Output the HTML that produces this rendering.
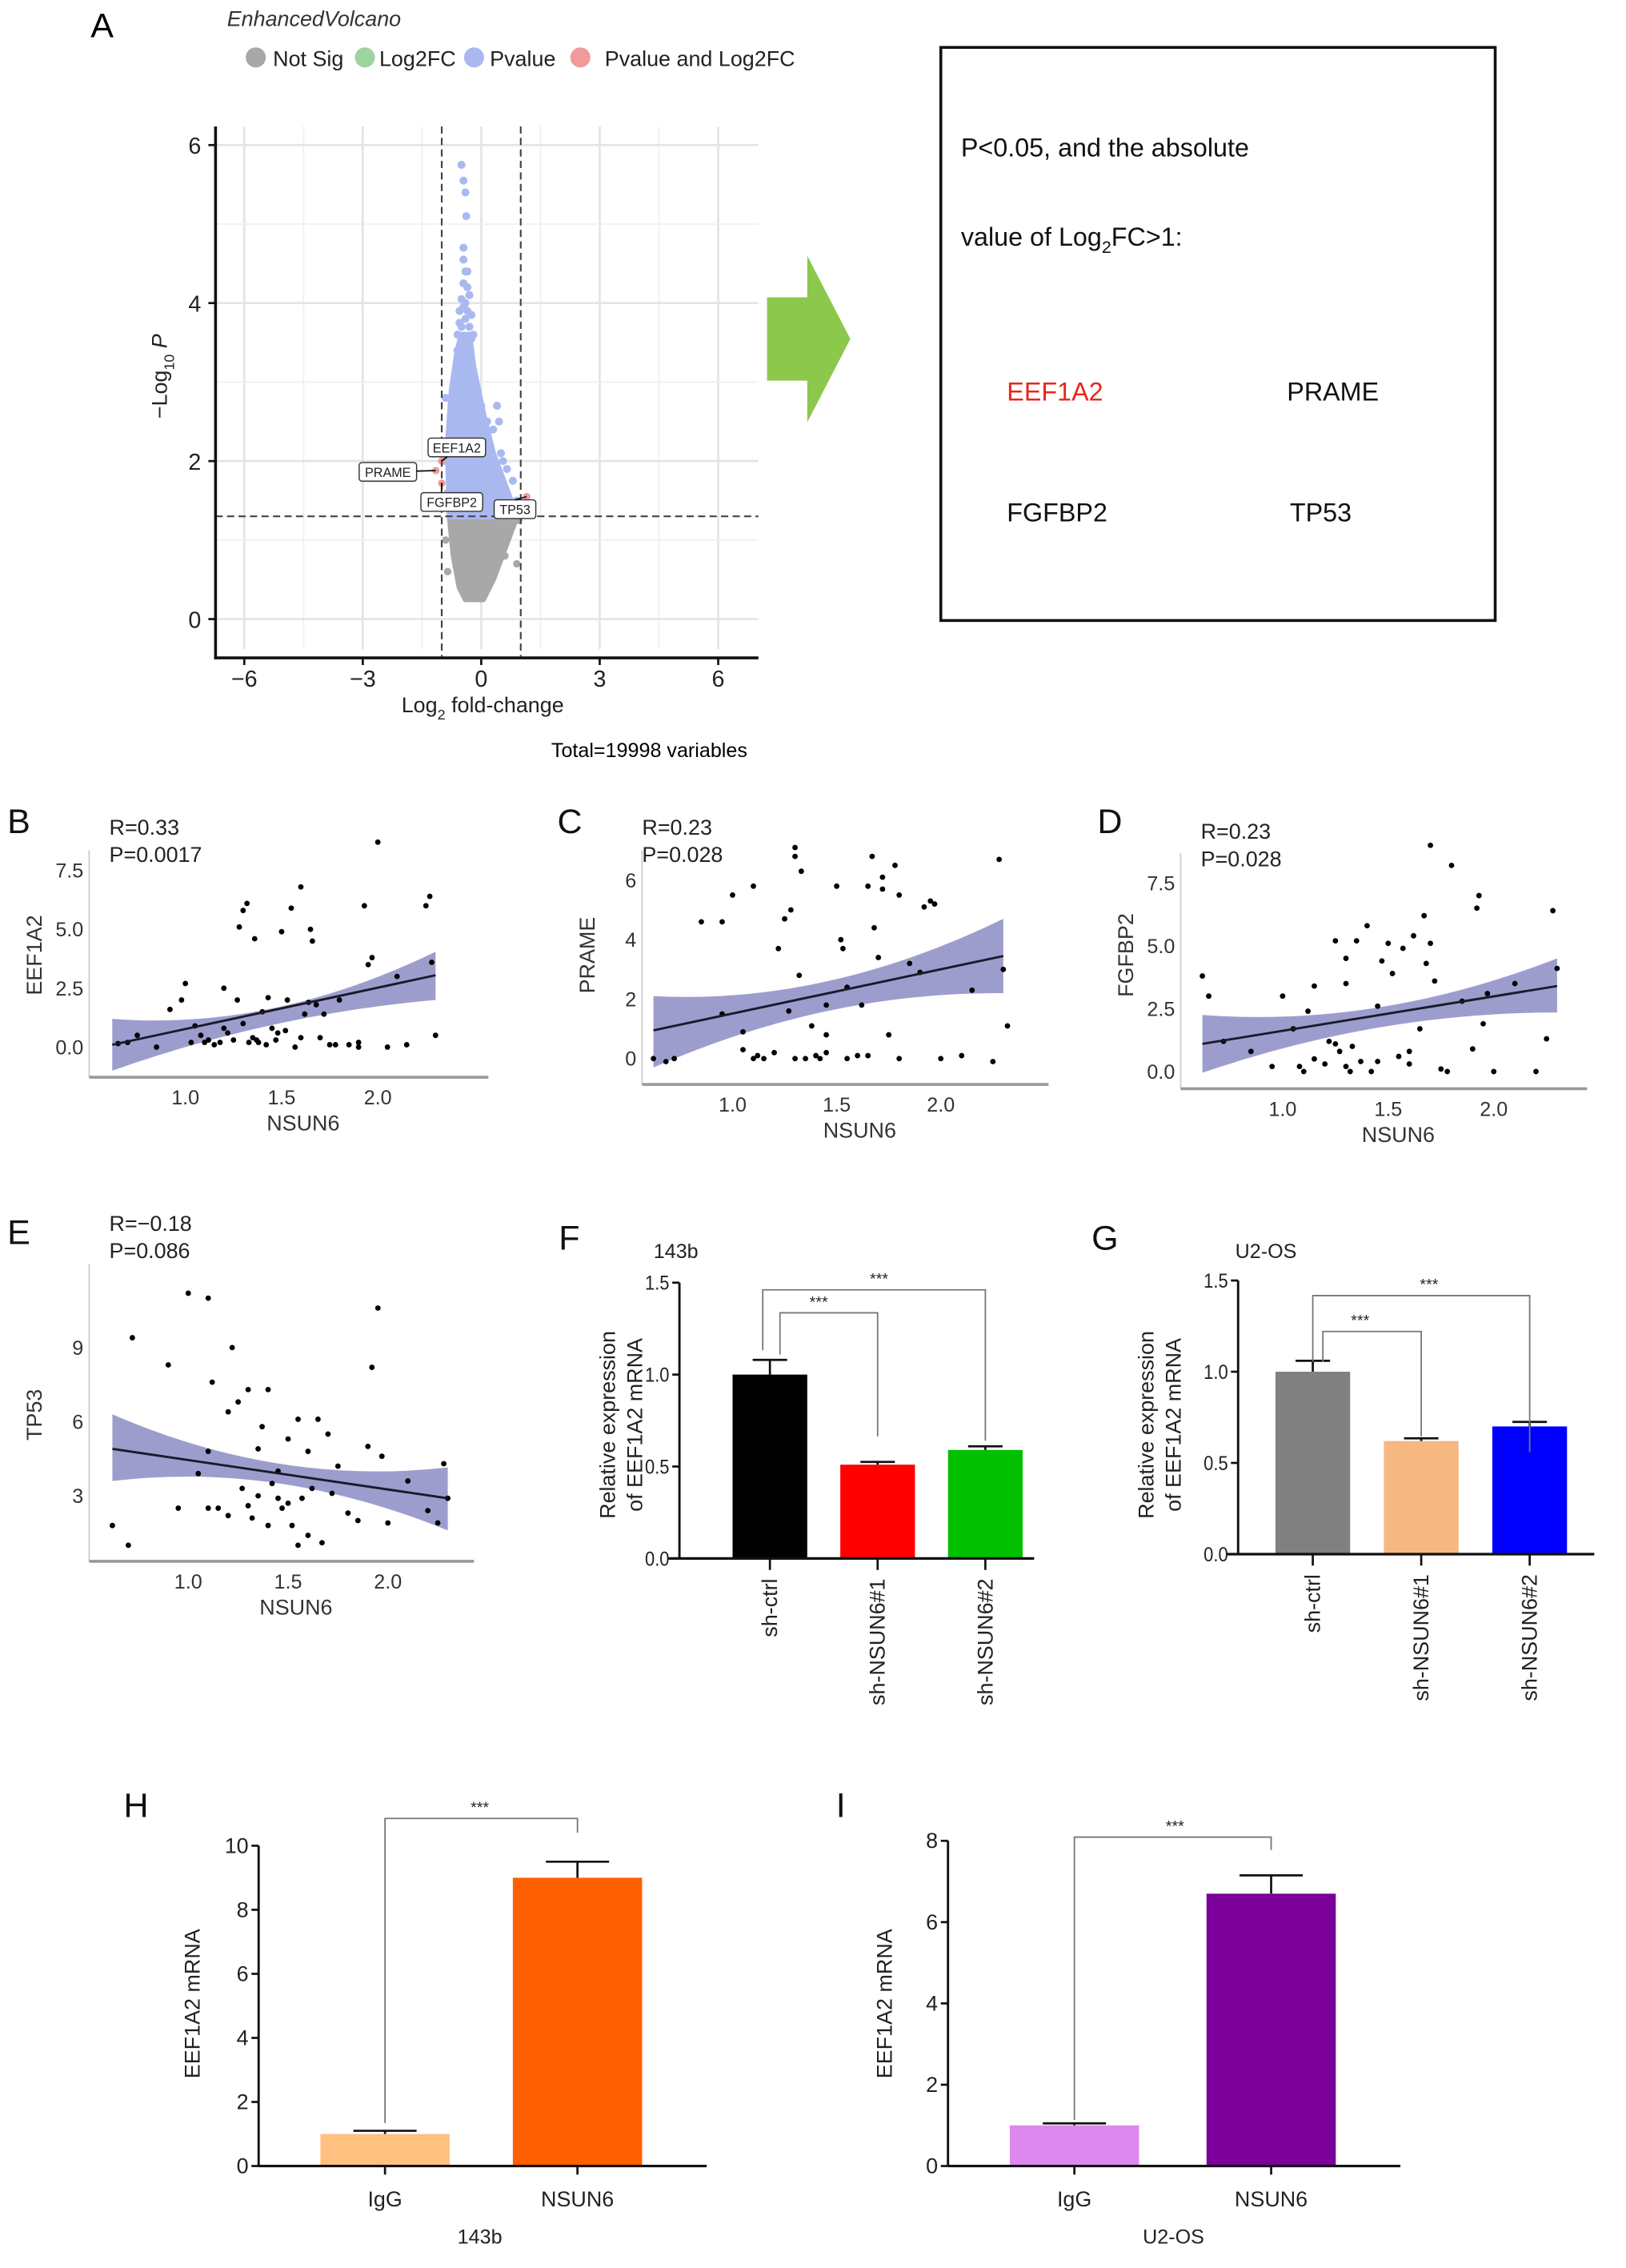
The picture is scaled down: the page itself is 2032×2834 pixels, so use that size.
<!DOCTYPE html>
<html><head><meta charset="utf-8">
<style>
html,body{margin:0;padding:0;background:#fff;}
svg{display:block;font-family:"Liberation Sans",Arial,sans-serif;}
</style></head>
<body>
<svg id="fig" width="2032" height="2834" viewBox="0 0 1132 1579" xmlns="http://www.w3.org/2000/svg">
<rect width="1132" height="1579" fill="#fff"/>
<text x="63" y="26" font-size="24">A</text>
<text x="158" y="18" font-size="15" font-style="italic" fill="#333">EnhancedVolcano</text>
<g font-size="15" fill="#222">
<circle cx="178" cy="40" r="7" fill="#a8a8a8"/><text x="190" y="46">Not Sig</text>
<circle cx="254" cy="40" r="7" fill="#9fd39f"/><text x="264" y="46">Log2FC</text>
<circle cx="330" cy="40" r="7" fill="#a9b9f0"/><text x="341" y="46">Pvalue</text>
<circle cx="404" cy="40" r="7" fill="#f29a9a"/><text x="421" y="46">Pvalue and Log2FC</text>
</g>
<polygon points="534,207 562,207 562,178 592,236 562,294 562,265 534,265" fill="#8cc84b"/>
<rect x="655" y="33" width="386" height="399" fill="none" stroke="#111" stroke-width="2"/>
<g font-size="18" fill="#111">
<text x="669" y="109">P&lt;0.05, and the absolute</text>
<text x="669" y="171">value of Log<tspan font-size="12" dy="5">2</tspan><tspan dy="-5">FC&gt;1:</tspan></text>
<text x="701" y="279" fill="#e8261e">EEF1A2</text>
<text x="896" y="279">PRAME</text>
<text x="701" y="363">FGFBP2</text>
<text x="898" y="363">TP53</text>
</g>
<text x="452" y="527" font-size="14" text-anchor="middle">Total=19998 variables</text>
<g id="volcano"></g>
<g id="scatters"></g>
<g id="bars"></g>
</svg>
<script>
const NS="http://www.w3.org/2000/svg";
function mk(parent,tag,attrs,text){const e=document.createElementNS(NS,tag);for(const k in attrs)e.setAttribute(k,attrs[k]);if(text!==undefined)e.textContent=text;parent.appendChild(e);return e;}

// ---------- Volcano data ----------
const volcanoXTicks=[-6,-3,0,3,6];
const volcanoYTicks=[0,2,4,6];
const blueX=[-0.5,-0.45,-0.4,-0.38,-0.45,-0.45,-0.4,-0.35,-0.5,-0.4,-0.3,-0.25,-0.55,-0.2,0.4,0.45,0.3,0.5,0.55,0.65,0.8,0.9,-0.9,-0.95,-0.85,-0.1,0.1,0.2,0.35,-0.6,-0.3,0.0,0.15,-0.7,-0.65,-0.45,-0.35,-0.55,-0.3,-0.5,-0.4,-0.25,-0.6,-0.35,-0.45];
const blueY=[5.75,5.55,5.4,5.1,4.7,4.55,4.4,4.4,4.05,4.0,4.1,3.85,3.9,3.6,2.7,2.5,2.4,2.1,2.0,1.9,1.75,1.5,2.8,2.0,1.6,2.9,2.3,2.2,1.9,3.4,3.3,2.7,2.5,2.4,1.8,3.95,3.9,3.75,3.7,3.7,3.8,3.55,3.6,4.2,4.25];
const redX=[-1.0,-1.15,-1.0,1.15];
const redY=[2.0,1.88,1.72,1.55];
const greyX=[0.95,0.9,-0.9,-0.85,0.6,0.7,-0.2,0.1,-0.5];
const greyY=[1.25,0.7,1.0,0.6,0.8,1.1,0.3,0.35,0.6];
const blueBlobX=[-0.8,-0.85,-0.75,-0.6,-0.5,-0.3,-0.2,0.05,0.3,0.6,0.9];
const blueBlobY=[1.3,2.2,2.9,3.4,3.6,3.6,3.2,2.6,2.1,1.7,1.3];
const greyBlobX=[-0.8,-0.7,-0.55,-0.4,0.05,0.3,0.6,0.9];
const greyBlobY=[1.3,0.8,0.4,0.25,0.25,0.5,0.9,1.3];
const geneLabels=["EEF1A2","PRAME","FGFBP2","TP53"];

(function(){
 const g=document.getElementById('volcano');
 const X=v=>335+v*27.5, Y=v=>431-v*55;
 for(let v=-6;v<=6;v+=1.5){const l=mk(g,'line',{x1:X(v),x2:X(v),y1:88,y2:452,stroke:v%3===0?'#e4e4e4':'#f0f0f0','stroke-width':v%3===0?1.5:1});}
 for(let v=0;v<=6;v+=1){const l=mk(g,'line',{x1:150,x2:528,y1:Y(v),y2:Y(v),stroke:v%2===0?'#e4e4e4':'#f0f0f0','stroke-width':v%2===0?1.5:1});}
 let p=mk(g,'polygon',{points:greyBlobX.map((x,i)=>X(x)+','+Y(greyBlobY[i])).join(' '),fill:'#a8a8a8','stroke':'#a8a8a8','stroke-width':4,'stroke-linejoin':'round'});
 
 greyX.forEach((x,i)=>{const c=mk(g,'circle',{cx:X(x),cy:Y(greyY[i]),r:2.6,fill:'#a8a8a8'});});
 p=mk(g,'polygon',{points:blueBlobX.map((x,i)=>X(x)+','+Y(blueBlobY[i])).join(' '),fill:'#a9b9f0','stroke':'#a9b9f0','stroke-width':4,'stroke-linejoin':'round'});
 
 blueX.forEach((x,i)=>{const c=mk(g,'circle',{cx:X(x),cy:Y(blueY[i]),r:2.8,fill:'#a9b9f0'});});
 redX.forEach((x,i)=>{const c=mk(g,'circle',{cx:X(x),cy:Y(redY[i]),r:2.6,fill:'#f29a9a'});});
 [-1,1].forEach(v=>{const l=mk(g,'line',{x1:X(v),x2:X(v),y1:88,y2:457,stroke:'#444','stroke-dasharray':'5,3','stroke-width':1.2});});
 let l=mk(g,'line',{x1:150,x2:528,y1:Y(1.3),y2:Y(1.3),stroke:'#444','stroke-dasharray':'5,3','stroke-width':1.2});
 const boxes=[[298,305,40],[250,322,40],[293,343,43],[344,348,29]];
 geneLabels.forEach((t,i)=>{const b=boxes[i];const gg=mk(g,'g',{});
  mk(gg,'rect',{x:b[0],y:b[1],width:b[2],height:13,rx:2,fill:'#fff',stroke:'#333','stroke-width':0.8});
  mk(gg,'text',{x:b[0]+b[2]/2,y:b[1]+10,'font-size':9,'text-anchor':'middle',fill:'#222'},t);
  const tx=X(redX[i]),ty=Y(redY[i]);
  const ax=i===1?b[0]+b[2]:(i===3?b[0]+b[2]/2:b[0]+b[2]/3), ay=i===0?b[1]+13:(i===1?b[1]+6:b[1]);
  mk(gg,'line',{x1:ax,y1:ay,x2:tx,y2:ty,stroke:'#111','stroke-width':1});});
 l=mk(g,'line',{x1:150,x2:150,y1:88,y2:459,stroke:'#111','stroke-width':2});
 l=mk(g,'line',{x1:149,x2:528,y1:458,y2:458,stroke:'#111','stroke-width':2});
 volcanoXTicks.forEach(v=>{mk(g,'line',{x1:X(v),x2:X(v),y1:458,y2:463,stroke:'#111','stroke-width':1.5});const t=mk(g,'text',{x:X(v),y:478,'font-size':16,'text-anchor':'middle',fill:'#222'},v<0?'\u2212'+(-v):String(v));});
 volcanoYTicks.forEach(v=>{mk(g,'line',{x1:145,x2:150,y1:Y(v),y2:Y(v),stroke:'#111','stroke-width':1.5});const t=mk(g,'text',{x:140,y:Y(v)+6,'font-size':16,'text-anchor':'end',fill:'#222'},String(v));});
 let t=mk(g,'text',{x:336,y:496,'font-size':15,'text-anchor':'middle',fill:'#222'});t.innerHTML='Log<tspan font-size="10" dy="5">2</tspan><tspan dy="-5"> fold-change</tspan>';
 
 t=mk(g,'text',{transform:'translate(116,262) rotate(-90)','font-size':15,'text-anchor':'middle',fill:'#222'});t.innerHTML='\u2212Log<tspan font-size="10" dy="5">10</tspan><tspan dy="-5" font-style="italic"> P</tspan>';
 
})();

// ---------- Scatter data ----------
const bX=[0.65,0.7,0.75,0.85,0.92,0.98,1.0,1.03,1.05,1.08,1.1,1.12,1.15,1.18,1.2,1.22,1.25,1.27,1.28,1.3,1.32,1.33,1.35,1.36,1.37,1.38,1.4,1.42,1.43,1.45,1.47,1.48,1.5,1.52,1.53,1.55,1.57,1.6,1.62,1.64,1.65,1.66,1.68,1.7,1.72,1.75,1.78,1.8,1.85,1.9,1.93,1.95,1.97,2.0,2.05,2.1,2.15,2.25,2.27,2.28,2.3,1.9,1.6,1.3,1.2];
const bY=[0.15,0.2,0.5,0.0,1.6,2.0,2.7,0.2,0.9,0.5,0.2,0.3,0.1,0.2,2.5,0.6,0.3,2.0,5.1,5.8,6.1,0.2,0.4,4.6,0.3,0.2,1.5,0.1,2.1,0.8,0.3,0.6,4.9,0.7,2.0,5.9,0.0,6.8,1.4,1.9,5.0,4.5,1.8,0.4,1.4,0.1,0.1,2.0,0.1,0.0,6.0,3.5,3.8,8.7,0.0,3.0,0.1,6.0,6.4,3.6,0.5,0.2,0.4,1.0,0.8];
const cX=[0.62,0.68,0.72,0.85,0.95,0.95,1.0,1.05,1.05,1.1,1.12,1.15,1.2,1.22,1.25,1.27,1.28,1.3,1.3,1.32,1.33,1.35,1.38,1.4,1.42,1.45,1.45,1.5,1.52,1.53,1.55,1.6,1.62,1.65,1.67,1.68,1.7,1.72,1.72,1.75,1.78,1.8,1.85,1.9,1.92,1.95,1.97,2.0,2.1,2.15,2.25,2.28,2.3,2.32,1.3,1.55,1.1,1.65,1.8,1.45];
const cY=[0.0,-0.1,0.0,4.6,4.6,1.5,5.5,0.9,0.3,5.8,0.1,0.0,0.2,3.7,4.7,1.6,5.0,7.1,6.8,2.8,6.3,0.0,1.1,0.1,0.0,1.8,0.8,5.8,4.0,3.7,2.4,0.1,1.8,5.8,6.8,4.4,3.4,6.1,5.7,0.8,6.5,5.5,3.2,2.9,5.1,5.3,5.2,0.0,0.1,2.3,-0.1,6.7,3.0,1.1,0.0,0.0,0.0,0.1,0.0,0.2];
const dX=[0.62,0.65,0.72,0.85,0.95,1.0,1.05,1.08,1.1,1.12,1.15,1.2,1.22,1.25,1.27,1.3,1.3,1.32,1.33,1.35,1.37,1.4,1.42,1.45,1.47,1.5,1.52,1.55,1.57,1.6,1.62,1.65,1.67,1.68,1.7,1.72,1.75,1.78,1.8,1.85,1.9,1.92,1.93,1.95,1.97,2.0,2.1,2.2,2.25,2.28,2.3,1.7,1.25,1.3,1.15,1.45,1.6];
const dY=[3.8,3.0,1.2,0.8,0.2,3.0,1.7,0.2,0.0,2.4,3.4,0.3,1.2,5.2,0.8,4.5,3.5,0.0,1.0,5.2,0.4,5.8,0.0,2.6,4.4,5.1,3.9,0.6,4.9,0.3,5.4,1.7,6.2,4.3,5.1,3.6,0.1,0.0,8.2,2.8,0.9,6.5,7.0,1.9,3.1,0.0,3.5,0.0,1.3,6.4,4.1,9.0,1.1,0.2,0.5,0.4,0.8];
const eX=[0.62,0.7,0.72,0.9,0.95,1.0,1.05,1.1,1.1,1.12,1.15,1.2,1.22,1.25,1.27,1.3,1.32,1.35,1.37,1.4,1.42,1.45,1.47,1.5,1.52,1.55,1.57,1.6,1.62,1.65,1.67,1.7,1.72,1.75,1.8,1.85,1.9,1.92,1.95,1.97,2.0,2.1,2.2,2.25,2.28,2.3,1.3,1.4,1.5,1.2,1.6,1.1,1.35,1.45,1.55];
const eY=[1.8,1.0,9.4,8.3,2.5,11.2,3.9,11.0,4.8,7.6,2.5,6.4,9.0,6.8,3.3,7.3,2.1,4.9,5.8,7.3,3.5,4.0,2.5,5.3,1.8,6.1,2.9,1.4,3.3,6.1,1.1,5.5,3.1,4.2,2.3,2.0,5.0,8.2,10.6,4.6,1.9,3.6,2.4,1.9,4.3,2.9,2.6,1.8,2.7,2.2,4.8,2.5,3.0,2.9,1.0];
const bFit=[0.1,3.05]; const bBand=[-1.0,1.2,0.95,1.65,2.0,4.05];
const cFit=[0.95,3.45]; const cBand=[-0.3,2.1,1.6,2.6,2.2,4.7];
const dFit=[1.1,3.4]; const dBand=[-0.05,2.25,1.75,2.55,2.35,4.5];
const eFit=[4.9,2.9]; const eBand=[3.6,6.3,3.5,4.3,1.6,4.15];

function scatterPanel(cfg,xs,ys,fit,band){
 const root=document.getElementById('scatters');
 const g=mk(root,'g',{});
 const X=v=>cfg.x1+(v-1)*cfg.sx, Y=v=>cfg.y0-v*cfg.sy;
 const xa=0.62,xm=1.45,xb=2.3;
 const path='M'+X(xa)+','+Y(band[0])+' Q'+X(xm)+','+(2*Y(band[2])-(Y(band[0])+Y(band[4]))/2)+' '+X(xb)+','+Y(band[4])+' L'+X(xb)+','+Y(band[5])+' Q'+X(xm)+','+(2*Y(band[3])-(Y(band[1])+Y(band[5]))/2)+' '+X(xa)+','+Y(band[1])+' Z';
 let e=mk(g,'path',{d:path,fill:'#8c8cc4','fill-opacity':0.85});
 xs.forEach((x,i)=>{const c=mk(g,'circle',{cx:X(x),cy:Y(ys[i]),r:1.9,fill:'#000'});});
 e=mk(g,'line',{x1:X(xa),y1:Y(fit[0]),x2:X(xb),y2:Y(fit[1]),stroke:'#1a1a2a','stroke-width':1.6});
 e=mk(g,'line',{x1:cfg.ax,x2:cfg.ax,y1:cfg.top,y2:cfg.bot,stroke:'#ccc','stroke-width':1});
 e=mk(g,'line',{x1:cfg.ax,x2:cfg.right,y1:cfg.bot,y2:cfg.bot,stroke:'#999','stroke-width':2});
 cfg.xt.forEach(v=>{const t=mk(g,'text',{x:X(v),y:cfg.bot+19,'font-size':14,'text-anchor':'middle',fill:'#333'},v.toFixed(1));});
 cfg.yt.forEach(v=>{const t=mk(g,'text',{x:cfg.ax-4,y:Y(v)+5,'font-size':14,'text-anchor':'end',fill:'#333'},cfg.dec?v.toFixed(1):String(v));});
 let t=mk(g,'text',{x:(cfg.ax+cfg.right)/2+10,y:cfg.bot+37,'font-size':15,'text-anchor':'middle',fill:'#333'},'NSUN6');
 t=mk(g,'text',{transform:'translate('+(cfg.ax-33)+','+cfg.ymid+') rotate(-90)','font-size':15,'text-anchor':'middle',fill:'#333'},cfg.ylab);
 t=mk(g,'text',{x:cfg.lx,y:cfg.ly,'font-size':24,fill:'#111'},cfg.letter);
 t=mk(g,'text',{x:cfg.sxr,y:cfg.syr,'font-size':15,fill:'#222'},cfg.r);
 t=mk(g,'text',{x:cfg.sxr,y:cfg.syr+19,'font-size':15,fill:'#222'},cfg.p);
}
scatterPanel({name:'scatter-b',letter:'B',lx:5,ly:580,x1:129,sx:134,y0:729,sy:16.4,ax:62,top:592,bot:750,right:340,xt:[1,1.5,2],yt:[0,2.5,5,7.5],dec:true,ylab:'EEF1A2',ymid:665,sxr:76,syr:581,r:'R=0.33',p:'P=0.0017'},bX,bY,bFit,bBand);
scatterPanel({name:'scatter-c',letter:'C',lx:388,ly:580,x1:510,sx:145,y0:737,sy:20.7,ax:447,top:592,bot:755,right:730,xt:[1,1.5,2],yt:[0,2,4,6],dec:false,ylab:'PRAME',ymid:665,sxr:447,syr:581,r:'R=0.23',p:'P=0.028'},cX,cY,cFit,cBand);
scatterPanel({name:'scatter-d',letter:'D',lx:764,ly:580,x1:893,sx:147,y0:746,sy:17.5,ax:822,top:594,bot:758,right:1105,xt:[1,1.5,2],yt:[0,2.5,5,7.5],dec:true,ylab:'FGFBP2',ymid:665,sxr:836,syr:584,r:'R=0.23',p:'P=0.028'},dX,dY,dFit,dBand);
scatterPanel({name:'scatter-e',letter:'E',lx:5,ly:866,x1:131,sx:139,y0:1093,sy:17.2,ax:62,top:880,bot:1087,right:330,xt:[1,1.5,2],yt:[3,6,9],dec:false,ylab:'TP53',ymid:985,sxr:76,syr:857,r:'R=\u22120.18',p:'P=0.086'},eX,eY,eFit,eBand);

// ---------- Bar data ----------
const fGroups=['sh-ctrl','sh-NSUN6#1','sh-NSUN6#2'];
const fValues=[1.0,0.51,0.59];
const fErrors=[0.08,0.015,0.02];
const gGroups=['sh-ctrl','sh-NSUN6#1','sh-NSUN6#2'];
const gValues=[1.0,0.62,0.70];
const gErrors=[0.06,0.015,0.025];
const hGroups=['IgG','NSUN6'];
const hValues=[1.0,9.0];
const hErrors=[0.1,0.5];
const iGroups=['IgG','NSUN6'];
const iValues=[1.0,6.7];
const iErrors=[0.05,0.45];
const fTicks=[0,0.5,1.0,1.5];
const gTicks=[0,0.5,1.0,1.5];
const hTicks=[0,2,4,6,8,10];
const iTicks=[0,2,4,6,8];

function barPanel(cfg,groups,vals,errs,ticks){
 const root=document.getElementById('bars');
 const g=mk(root,'g',{});
 const Y=v=>cfg.y0-v*cfg.sy;
 const cx=i=>cfg.c0+i*cfg.step;
 vals.forEach((v,i)=>{
  const r=mk(g,'rect',{x:cx(i)-cfg.bw/2,y:Y(v),width:cfg.bw,height:cfg.y0-Y(v),fill:cfg.colors[i]});
  const top=Y(v+errs[i]);
  const e=mk(g,'path',{d:'M'+cx(i)+','+Y(v)+' V'+top+' M'+(cx(i)-cfg.cap)+','+top+' H'+(cx(i)+cfg.cap),stroke:'#111','stroke-width':1.5,fill:'none'});
 });
 let e=mk(g,'line',{x1:cfg.ax,x2:cfg.ax,y1:Y(ticks[ticks.length-1]),y2:cfg.y0,stroke:'#111','stroke-width':1.6});
 e=mk(g,'line',{x1:cfg.ax-(cfg.rot?8:0),x2:cfg.right,y1:cfg.y0,y2:cfg.y0,stroke:'#111','stroke-width':1.8});
 ticks.forEach(v=>{mk(g,'line',{x1:cfg.ax-5,x2:cfg.ax,y1:Y(v),y2:Y(v),stroke:'#111','stroke-width':1.5});
  const attrs={x:cfg.ax-7,y:Y(v)+5,'font-size':cfg.rot?14:15,'text-anchor':'end',fill:'#222'};
  if(cfg.rot){attrs.textLength=17;attrs.lengthAdjust='spacingAndGlyphs';}
  const t=mk(g,'text',attrs,cfg.dec?v.toFixed(1):String(v));});
 groups.forEach((s,i)=>{
  if(cfg.rot){mk(g,'line',{x1:cx(i),x2:cx(i),y1:cfg.y0,y2:cfg.y0+8,stroke:'#111','stroke-width':1.5});
   const t=mk(g,'text',{transform:'translate('+(cx(i)+5)+','+(cfg.y0+14)+') rotate(-90)','font-size':15,'text-anchor':'end',fill:'#222'},s);}
  else{mk(g,'line',{x1:cx(i),x2:cx(i),y1:cfg.y0,y2:cfg.y0+6,stroke:'#111','stroke-width':1.5});
   const t=mk(g,'text',{x:cx(i),y:cfg.y0+28,'font-size':15,'text-anchor':'middle',fill:'#222'},s);}
 });
 cfg.brackets.forEach(b=>{
  const p=mk(g,'path',{d:'M'+(cx(b[0])+b[4])+','+b[2]+' V'+b[1]+' H'+cx(b[3])+' V'+b[5],stroke:'#777','stroke-width':1,fill:'none'});
  const t=mk(g,'text',{x:b[6],y:b[1]-4,'font-size':11,'text-anchor':'middle',fill:'#222'},'***');
 });
 cfg.ytitle.forEach((s,k)=>{const t=mk(g,'text',{transform:'translate('+(cfg.tx+k*19)+','+cfg.tmid+') rotate(-90)','font-size':15,'text-anchor':'middle',fill:'#222'},s);});
 let t=mk(g,'text',{x:cfg.lx,y:cfg.ly,'font-size':24,fill:'#111'},cfg.letter);
 t=mk(g,'text',{x:cfg.sx2,y:cfg.sy2,'font-size':14,'text-anchor':cfg.rot?'start':'middle',fill:'#222'},cfg.sub);
}
barPanel({name:'bar-chart-f',letter:'F',lx:389,ly:870,sub:'143b',sx2:455,sy2:876,rot:true,ax:473,right:720,y0:1085,sy:128,c0:536,step:75,bw:52,cap:12,dec:true,colors:['#000','#ff0000','#00c000'],
 brackets:[[0,914,943,1,7,1000,570],[0,898,940,2,-5,1003,612]],ytitle:['Relative expression','of EEF1A2 mRNA'],tx:428,tmid:992},fGroups,fValues,fErrors,fTicks);
barPanel({name:'bar-chart-g',letter:'G',lx:760,ly:870,sub:'U2-OS',sx2:860,sy2:876,rot:true,ax:862,right:1110,y0:1082,sy:127,c0:914,step:75.5,bw:52,cap:12,dec:true,colors:['#808080','#f5b880','#0000ff'],
 brackets:[[0,927,948,1,7,1000,947],[0,902,948,2,0,1011,995]],ytitle:['Relative expression','of EEF1A2 mRNA'],tx:803,tmid:992},gGroups,gValues,gErrors,gTicks);
barPanel({name:'bar-chart-h',letter:'H',lx:86,ly:1265,sub:'143b',sx2:334,sy2:1562,rot:false,ax:180,right:492,y0:1508,sy:22.3,c0:268,step:134,bw:90,cap:22,dec:false,colors:['#ffc080','#ff5f00'],
 brackets:[[0,1266,1478,1,0,1276,334]],ytitle:['EEF1A2 mRNA'],tx:139,tmid:1395},hGroups,hValues,hErrors,hTicks);
barPanel({name:'bar-chart-i',letter:'I',lx:582,ly:1265,sub:'U2-OS',sx2:817,sy2:1562,rot:false,ax:660,right:975,y0:1508,sy:28.3,c0:748,step:137,bw:90,cap:22,dec:false,colors:['#dd88ee','#7b0099'],
 brackets:[[0,1279,1476,1,0,1288,818]],ytitle:['EEF1A2 mRNA'],tx:621,tmid:1395},iGroups,iValues,iErrors,iTicks);
</script>
</body></html>
